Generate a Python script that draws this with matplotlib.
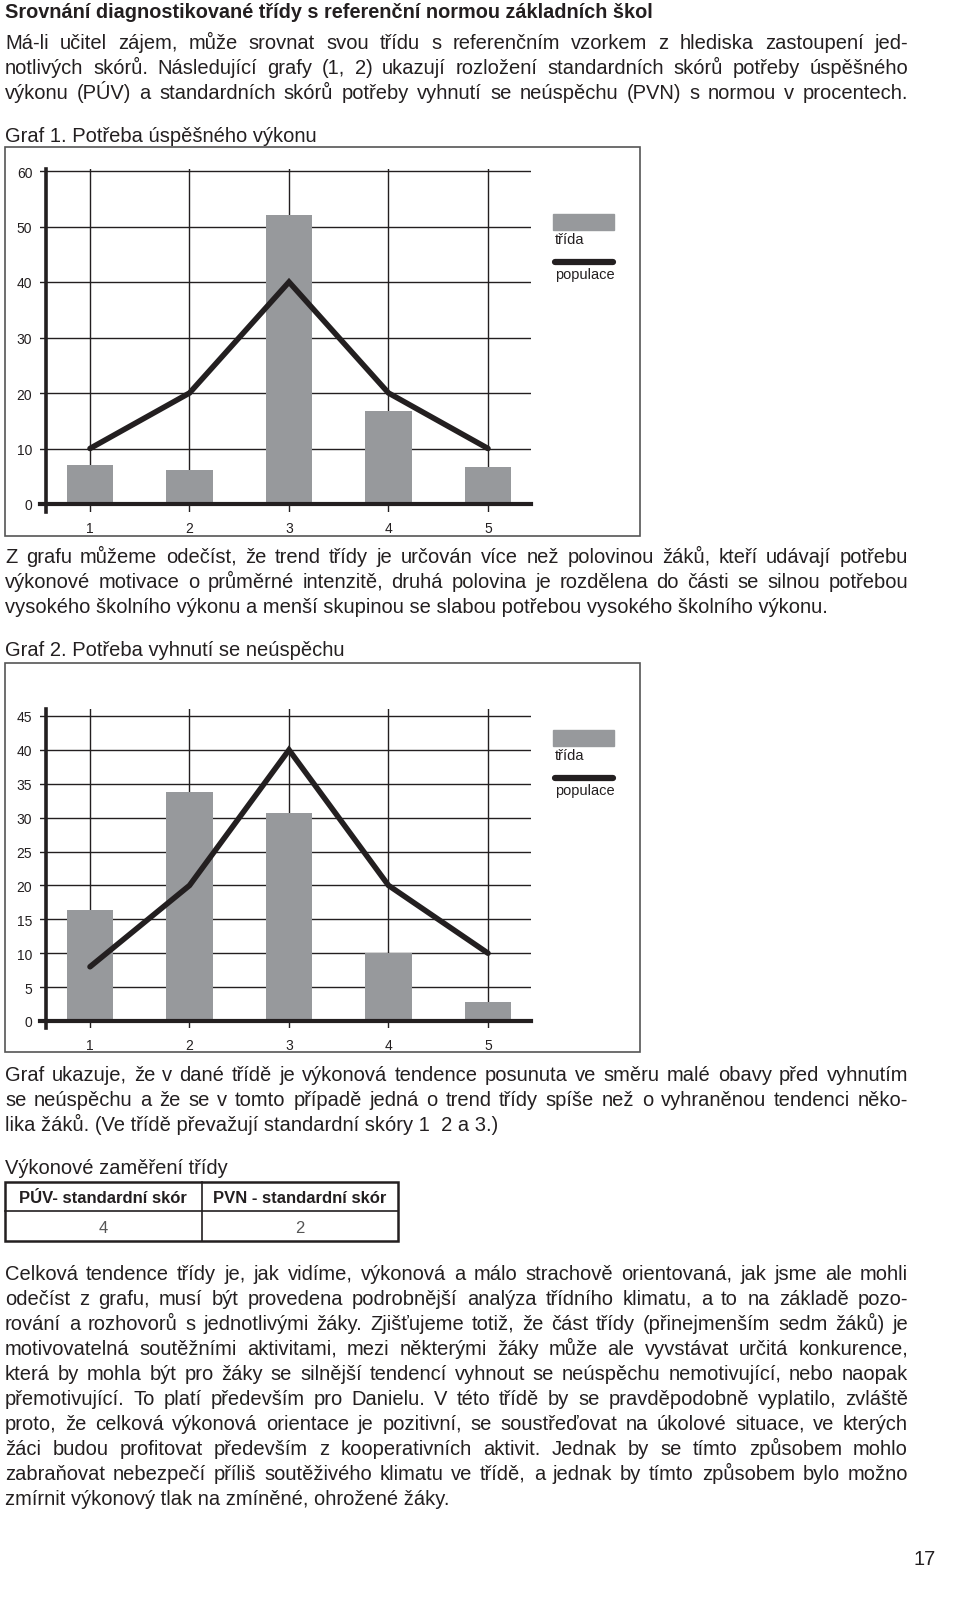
import numpy as np
import matplotlib
matplotlib.use('Agg')
import matplotlib.pyplot as plt
from matplotlib.patches import Rectangle

plt.rcParams['font.family'] = ['Liberation Sans', 'DejaVu Sans']

# Data
categories = [1, 2, 3, 4, 5]
g1_trida = [7.1, 6.1, 52, 16.8, 6.6]
g1_populace = [10, 20, 40, 20, 10]
g1_yticks = [0, 10, 20, 30, 40, 50, 60]
g2_trida = [16.4, 33.8, 30.7, 10.0, 2.8]
g2_populace = [8, 20, 40, 20, 10]
g2_yticks = [0, 5, 10, 15, 20, 25, 30, 35, 40, 45]
table_header = ['PÚV- standardní skór', 'PVN - standardní skór']
table_values = ['4', '2']

TXT = '#231f20'
BAR = '#97999c'
W, H = 960, 1606
X0, X1 = 5, 908
FS = 14.5

fig = plt.figure(figsize=(W / 100, H / 100), dpi=100)
page = fig.add_axes([0, 0, 1, 1])
page.set_xlim(0, W)
page.set_ylim(H, 0)
page.axis('off')
renderer = fig.canvas.get_renderer()


def line(s, y, justify=True, size=FS, weight='normal'):
    # y is the baseline in page pixels
    if not justify:
        page.text(X0, y, s, fontsize=size, weight=weight, color=TXT, va='baseline')
        return
    words = s.split(' ')
    objs = [page.text(0, y, w, fontsize=size, weight=weight, color=TXT, va='baseline') for w in words]
    widths = [o.get_window_extent(renderer).width for o in objs]
    gap = (X1 - X0 - sum(widths)) / (len(words) - 1)
    x = X0
    for o, w in zip(objs, widths):
        o.set_x(x)
        x += w + gap


def chart(trida, populace, yticks, ylim, y0px, ytoppx, frame):
    # axes placed on the page in pixels
    x_of = lambda c: 90 + (c - 1) * 99.5
    xl, xr = 0.5, 5.43
    ppu = (y0px - ytoppx) / yticks[-1]
    top_px = y0px - ylim[1] * ppu
    bot_px = y0px - ylim[0] * ppu
    ax = fig.add_axes([x_of(xl) / W, 1 - bot_px / H, (x_of(xr) - x_of(xl)) / W, (bot_px - top_px) / H])
    ax.set_xlim(xl, xr)
    ax.set_ylim(*ylim)
    ax.patch.set_alpha(0)
    ax.bar(categories, trida, width=0.47, color=BAR, zorder=2)
    ax.plot(categories, populace, color=TXT, lw=4, zorder=3, solid_capstyle='round', solid_joinstyle='miter')
    ax.set_yticks(yticks)
    ax.set_xticks(categories)
    ax.grid(True, color=TXT, lw=1.0, zorder=1)
    ax.set_axisbelow(True)
    for s in ['top', 'right']:
        ax.spines[s].set_visible(False)
    ax.spines['left'].set_position(('data', 0.56))
    ax.spines['bottom'].set_position(('data', 0))
    ax.spines['left'].set_linewidth(2.6)
    ax.spines['bottom'].set_linewidth(3)
    ax.spines['left'].set_color(TXT)
    ax.spines['bottom'].set_color(TXT)
    ax.tick_params(length=0, labelsize=10, labelcolor=TXT)
    ax.tick_params(axis='y', pad=10)
    ax.tick_params(axis='x', pad=12)
    # frame
    page.add_patch(Rectangle((5, frame[0]), 635, frame[1] - frame[0], fill=False, ec='#555555', lw=1.2))
    # legend
    ly = frame[0] + 67
    page.add_patch(Rectangle((553, ly), 61, 16, color=BAR))
    page.text(555, ly + 25, 'třída', fontsize=10.5, color=TXT, va='center')
    page.plot([555, 613], [ly + 48, ly + 48], color=TXT, lw=4.5, solid_capstyle='round')
    page.text(555, ly + 60, 'populace', fontsize=10.5, color=TXT, va='center')


line('Srovnání diagnostikované třídy s referenční normou základních škol', 18, False, size=14.3, weight='bold')
line('Má-li učitel zájem, může srovnat svou třídu s referenčním vzorkem z hlediska zastoupení jed-', 49)
line('notlivých skórů. Následující grafy (1, 2) ukazují rozložení standardních skórů potřeby úspěšného', 74)
line('výkonu (PÚV) a standardních skórů potřeby vyhnutí se neúspěchu (PVN) s normou v procentech.', 99)
line('Graf 1. Potřeba úspěšného výkonu', 142, False)

chart(g1_trida, g1_populace, g1_yticks, (-1.4, 60.4), 505, 172, (148, 537))

line('Z grafu můžeme odečíst, že trend třídy je určován více než polovinou žáků, kteří udávají potřebu', 563)
line('výkonové motivace o průměrné intenzitě, druhá polovina je rozdělena do části se silnou potřebou', 588)
line('vysokého školního výkonu a menší skupinou se slabou potřebou vysokého školního výkonu.', 613, False)
line('Graf 2. Potřeba vyhnutí se neúspěchu', 656, False)

chart(g2_trida, g2_populace, g2_yticks, (-1.1, 46.0), 1022, 717, (664, 1053))

line('Graf ukazuje, že v dané třídě je výkonová tendence posunuta ve směru malé obavy před vyhnutím', 1081)
line('se neúspěchu a že se v tomto případě jedná o trend třídy spíše než o vyhraněnou tendenci něko-', 1106)
line('lika žáků. (Ve třídě převažují standardní skóry 1  2 a 3.)', 1131, False)
line('Výkonové zaměření třídy', 1174, False)

# table
page.add_patch(Rectangle((5, 1183), 393, 59, fill=False, ec=TXT, lw=1.8))
page.plot([5, 398], [1212, 1212], color=TXT, lw=1.2)
page.plot([202, 202], [1183, 1242], color=TXT, lw=1.2)
for cx, head, val in zip([103, 300], table_header, table_values):
    page.text(cx, 1203, head, fontsize=12, weight='bold', color=TXT, ha='center', va='baseline')
    page.text(cx, 1233, val, fontsize=12, color='#555555', ha='center', va='baseline')

para = [
    'Celková tendence třídy je, jak vidíme, výkonová a málo strachově orientovaná, jak jsme ale mohli',
    'odečíst z grafu, musí být provedena podrobnější analýza třídního klimatu, a to na základě pozo-',
    'rování a rozhovorů s jednotlivými žáky. Zjišťujeme totiž, že část třídy (přinejmenším sedm žáků) je',
    'motivovatelná soutěžními aktivitami, mezi některými žáky může ale vyvstávat určitá konkurence,',
    'která by mohla být pro žáky se silnější tendencí vyhnout se neúspěchu nemotivující, nebo naopak',
    'přemotivující. To platí především pro Danielu. V této třídě by se pravděpodobně vyplatilo, zvláště',
    'proto, že celková výkonová orientace je pozitivní, se soustřeďovat na úkolové situace, ve kterých',
    'žáci budou profitovat především z kooperativních aktivit. Jednak by se tímto způsobem mohlo',
    'zabraňovat nebezpečí příliš soutěživého klimatu ve třídě, a jednak by tímto způsobem bylo možno',
]
for i, s in enumerate(para):
    line(s, 1280 + 25 * i)
line('zmírnit výkonový tlak na zmíněné, ohrožené žáky.', 1505, False)

page.text(936, 1565, '17', fontsize=FS, color=TXT, ha='right', va='baseline')

fig.savefig('out.png', dpi=100)
